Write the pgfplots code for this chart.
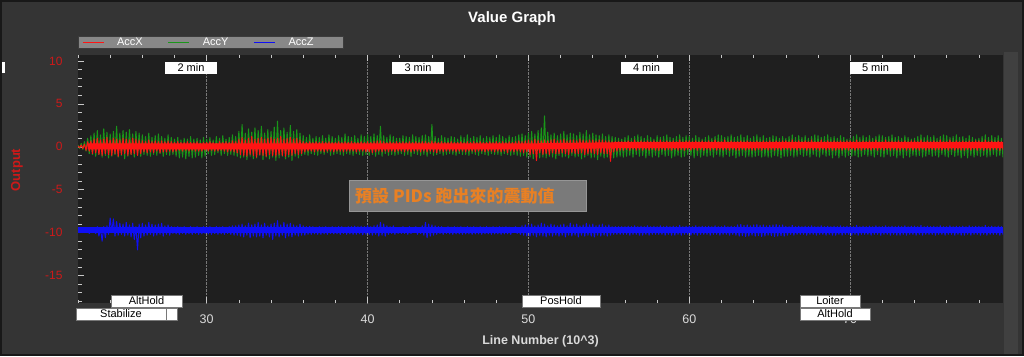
\documentclass[border=0pt]{standalone}
\usepackage{fontspec}
\setmainfont{Liberation Sans}
\newfontfamily\cjk{Noto Sans CJK TC}
\usepackage{pgfplots}
\pgfplotsset{compat=1.18}
\usepackage{pgfplotstable}

\definecolor{framec}{RGB}{24,24,24}
\definecolor{outerbg}{RGB}{52,52,52}
\definecolor{stripc}{RGB}{64,64,64}
\definecolor{plotbg}{RGB}{31,31,31}
\definecolor{gridc}{RGB}{120,120,120}
\definecolor{tickc}{RGB}{200,200,200}
\definecolor{xlabc}{RGB}{218,218,218}
\definecolor{ylabc}{RGB}{205,25,25}
\definecolor{legbg}{RGB}{136,136,136}
\definecolor{legborder}{RGB}{60,60,60}
\definecolor{annbg}{RGB}{122,122,122}
\definecolor{annborder}{RGB}{150,150,150}
\definecolor{annfg}{RGB}{232,128,36}
\definecolor{accx}{RGB}{255,20,20}
\definecolor{accy}{RGB}{25,150,25}
\definecolor{accz}{RGB}{15,15,245}
\definecolor{boxborder}{RGB}{120,120,120}

\pgfplotstableread{
x r g b
22.0 0.1 0.2 -9.6
22.1 -0.1 -0.2 -9.9
22.2 0.2 0.4 -9.5
22.3 -0.2 -0.3 -10.0
22.4 0.3 0.6 -9.5
22.5 -0.4 -0.5 -10.0
22.6 0.6 1.0 -9.4
22.7 -0.5 -0.8 -10.1
22.8 0.7 1.3 -9.5
22.9 -0.8 -0.9 -10.0
23.0 0.9 1.6 -9.4
23.1 -0.7 -1.1 -10.1
23.2 1.0 1.9 -9.3
23.3 -0.9 -0.9 -10.4
23.4 0.8 1.4 -9.5
23.5 -1.0 -1.2 -11.0
23.6 0.9 2.1 -9.3
23.7 -0.8 -1.0 -10.6
23.8 1.1 1.7 -9.2
23.9 -0.9 -1.3 -10.2
24.0 0.8 1.5 -8.3
24.1 -1.0 -1.1 -10.0
24.2 1.0 1.8 -8.4
24.3 -0.8 -0.9 -10.4
24.4 0.9 2.4 -8.7
24.5 -1.1 -1.2 -10.3
24.6 0.8 1.6 -8.9
24.7 -0.9 -1.0 -10.2
24.8 1.0 1.9 -9.0
24.9 -0.8 -1.4 -10.4
25.0 0.9 1.7 -8.8
25.1 -1.0 -1.1 -10.3
25.2 0.8 2.0 -9.1
25.3 -0.9 -0.9 -10.5
25.4 1.0 1.5 -8.9
25.5 -0.8 -1.2 -10.8
25.6 0.9 1.8 -9.3
25.7 -1.0 -1.0 -12.0
25.8 0.8 1.6 -9.0
25.9 -0.8 -1.1 -10.6
26.0 0.7 1.4 -8.9
26.1 -0.6 -0.9 -10.4
26.2 0.6 1.2 -9.1
26.3 -0.7 -1.0 -10.3
26.4 0.8 1.6 -8.8
26.5 -0.6 -1.1 -10.2
26.6 0.6 1.1 -9.0
26.7 -0.7 -0.9 -10.4
26.8 0.7 1.3 -9.1
26.9 -0.5 -1.0 -10.3
27.0 0.6 1.5 -9.0
27.1 -0.7 -0.8 -10.2
27.2 0.7 1.2 -8.9
27.3 -0.6 -1.1 -10.4
27.4 0.6 1.0 -9.2
27.5 -0.6 -0.9 -10.2
27.6 0.7 1.4 -9.1
27.7 -0.5 -1.0 -10.3
27.8 0.6 1.1 -9.3
27.9 -0.6 -0.9 -10.1
28.0 0.5 0.9 -9.35
28.1 -0.5 -1.1 -10.15
28.2 0.6 1.1 -9.3
28.3 -0.4 -1.3 -10.2
28.4 0.5 0.8 -9.35
28.5 -0.5 -1.2 -10.1
28.6 0.5 1.0 -9.3
28.7 -0.4 -1.4 -10.2
28.8 0.6 0.9 -9.4
28.9 -0.5 -1.1 -10.15
29.0 0.5 1.2 -9.3
29.1 -0.4 -1.3 -10.2
29.2 0.5 0.9 -9.35
29.3 -0.5 -1.2 -10.1
29.4 0.6 1.0 -9.3
29.5 -0.5 -1.0 -10.2
29.6 0.4 0.8 -9.4
29.7 -0.5 -1.3 -10.15
29.8 0.5 1.1 -9.3
29.9 -0.4 -1.1 -10.1
30.0 0.5 0.9 -9.35
30.1 -0.5 -0.8 -10.15
30.2 0.6 1.1 -9.3
30.3 -0.4 -1.0 -10.2
30.4 0.5 0.8 -9.4
30.5 -0.5 -0.9 -10.1
30.6 0.4 1.2 -9.3
30.7 -0.5 -0.7 -10.2
30.8 0.6 1.0 -9.35
30.9 -0.4 -1.0 -10.15
31.0 0.5 1.3 -9.3
31.1 -0.5 -0.8 -10.2
31.2 0.6 0.9 -9.35
31.3 -0.6 -1.0 -10.1
31.4 0.5 1.1 -9.3
31.5 -0.5 -0.9 -10.2
31.6 0.7 1.4 -9.2
31.7 -0.6 -1.0 -10.3
31.8 0.6 1.2 -9.2
31.9 -0.7 -1.1 -10.3
32.0 0.9 1.8 -9.1
32.1 -0.9 -1.3 -10.4
32.2 1.1 2.6 -9.0
32.3 -1.0 -1.2 -10.5
32.4 0.8 1.6 -9.2
32.5 -1.1 -1.5 -10.3
32.6 1.0 2.1 -8.9
32.7 -0.9 -1.1 -10.6
32.8 1.2 1.7 -9.1
32.9 -1.0 -1.4 -10.4
33.0 0.9 2.2 -9.0
33.1 -1.2 -1.3 -10.5
33.2 1.0 1.9 -8.8
33.3 -0.9 -1.0 -10.4
33.4 1.1 2.4 -9.1
33.5 -1.0 -1.5 -10.6
33.6 0.9 1.6 -8.9
33.7 -1.1 -1.2 -10.3
33.8 1.0 2.0 -9.2
33.9 -0.9 -1.4 -10.5
34.0 1.1 1.8 -9.0
34.1 -1.0 -1.2 -10.8
34.2 0.9 2.3 -8.9
34.3 -1.1 -1.6 -10.4
34.4 1.0 3.0 -8.6
34.5 -0.9 -1.3 -10.5
34.6 1.2 1.9 -9.1
34.7 -1.0 -1.1 -10.3
34.8 0.9 2.2 -8.8
34.9 -1.1 -1.4 -10.6
35.0 1.0 1.7 -9.0
35.1 -0.9 -1.2 -10.4
35.2 1.1 2.5 -8.9
35.3 -1.0 -1.6 -10.5
35.4 0.9 1.8 -9.1
35.5 -0.8 -1.1 -10.3
35.6 1.0 2.0 -9.2
35.7 -0.9 -1.3 -10.4
35.8 0.8 1.6 -9.0
35.9 -0.8 -1.0 -10.3
36.0 0.6 1.3 -9.2
36.1 -0.6 -0.9 -10.3
36.2 0.5 1.1 -9.3
36.3 -0.5 -1.0 -10.2
36.4 0.6 1.4 -9.25
36.5 -0.5 -0.8 -10.2
36.6 0.5 1.0 -9.3
36.7 -0.6 -0.9 -10.15
36.8 0.6 1.2 -9.35
36.9 -0.5 -1.0 -10.2
37.0 0.5 1.1 -9.3
37.1 -0.5 -0.8 -10.2
37.2 0.6 1.3 -9.35
37.3 -0.6 -0.9 -10.15
37.4 0.5 1.0 -9.3
37.5 -0.5 -0.7 -10.2
37.6 0.6 1.4 -9.35
37.7 -0.5 -1.0 -10.1
37.8 0.5 1.2 -9.3
37.9 -0.6 -0.9 -10.15
38.0 0.5 1.0 -9.35
38.1 -0.5 -0.8 -10.15
38.2 0.6 1.3 -9.3
38.3 -0.5 -0.9 -10.2
38.4 0.5 1.1 -9.3
38.5 -0.6 -1.0 -10.1
38.6 0.6 1.5 -9.35
38.7 -0.5 -0.8 -10.2
38.8 0.5 1.2 -9.3
38.9 -0.5 -0.9 -10.15
39.0 0.6 1.1 -9.3
39.1 -0.5 -1.0 -10.2
39.2 0.5 1.3 -9.25
39.3 -0.6 -0.8 -10.2
39.4 0.5 1.0 -9.3
39.5 -0.5 -0.9 -10.15
39.6 0.6 1.4 -9.25
39.7 -0.5 -1.0 -10.25
39.8 0.5 1.2 -9.3
39.9 -0.6 -0.9 -10.2
40.0 0.6 1.4 -9.2
40.1 -0.6 -1.0 -10.2
40.2 0.5 1.2 -9.3
40.3 -0.7 -0.9 -10.3
40.4 0.6 1.5 -9.2
40.5 -0.6 -1.1 -10.2
40.6 0.7 1.3 -9.1
40.7 -0.5 -0.9 -10.4
40.8 0.7 2.4 -8.8
40.9 -0.6 -1.1 -10.3
41.0 0.6 1.3 -9.0
41.1 -0.5 -0.8 -10.4
41.2 0.5 1.1 -9.2
41.3 -0.6 -1.0 -10.2
41.4 0.6 1.4 -9.3
41.5 -0.5 -0.9 -10.1
41.6 0.5 1.2 -9.2
41.7 -0.6 -1.0 -10.2
41.8 0.6 1.0 -9.4
41.9 -0.5 -0.9 -10.1
42.0 0.5 1.0 -9.4
42.1 -0.5 -0.8 -10.1
42.2 0.6 1.3 -9.3
42.3 -0.6 -1.0 -10.1
42.4 0.5 1.2 -9.4
42.5 -0.5 -0.9 -10.2
42.6 0.6 1.1 -9.3
42.7 -0.6 -1.1 -10.1
42.8 0.5 1.4 -9.4
42.9 -0.5 -0.8 -10.0
43.0 0.6 1.2 -9.3
43.1 -0.5 -0.9 -10.2
43.2 0.5 1.1 -9.4
43.3 -0.6 -1.0 -10.1
43.4 0.6 1.3 -9.2
43.5 -0.5 -0.9 -10.3
43.6 0.6 1.4 -8.8
43.7 -0.6 -1.1 -10.6
43.8 0.5 1.2 -9.0
43.9 -0.5 -0.8 -10.4
44.0 0.7 2.6 -9.1
44.1 -0.6 -1.0 -10.3
44.2 0.6 1.2 -9.2
44.3 -0.7 -0.9 -10.2
44.4 0.5 1.0 -9.3
44.5 -0.5 -0.8 -10.1
44.6 0.6 1.3 -9.3
44.7 -0.6 -1.0 -10.2
44.8 0.5 1.1 -9.4
44.9 -0.5 -0.9 -10.1
45.0 0.5 1.0 -9.3
45.1 -0.5 -0.8 -10.15
45.2 0.6 1.2 -9.35
45.3 -0.5 -0.9 -10.2
45.4 0.5 1.1 -9.3
45.5 -0.6 -1.0 -10.15
45.6 0.5 0.9 -9.35
45.7 -0.5 -0.8 -10.15
45.8 0.6 1.3 -9.3
45.9 -0.5 -0.9 -10.2
46.0 0.5 1.1 -9.35
46.1 -0.6 -0.9 -10.15
46.2 0.6 1.4 -9.3
46.3 -0.5 -1.0 -10.15
46.4 0.5 1.0 -9.35
46.5 -0.5 -0.8 -10.2
46.6 0.6 1.2 -9.3
46.7 -0.6 -0.9 -10.15
46.8 0.5 1.1 -9.35
46.9 -0.5 -1.0 -10.15
47.0 0.6 1.3 -9.3
47.1 -0.5 -0.8 -10.2
47.2 0.5 1.0 -9.35
47.3 -0.6 -0.9 -10.15
47.4 0.5 1.2 -9.3
47.5 -0.5 -1.0 -10.15
47.6 0.6 1.1 -9.35
47.7 -0.5 -0.8 -10.2
47.8 0.5 1.3 -9.3
47.9 -0.6 -0.9 -10.15
48.0 0.6 1.1 -9.35
48.1 -0.5 -0.9 -10.15
48.2 0.5 1.4 -9.3
48.3 -0.6 -1.0 -10.2
48.4 0.6 1.2 -9.35
48.5 -0.5 -0.8 -10.15
48.6 0.5 1.0 -9.3
48.7 -0.7 -0.9 -10.15
48.8 0.6 1.3 -9.35
48.9 -0.5 -1.0 -10.2
49.0 0.5 1.1 -9.4
49.1 -0.6 -0.9 -10.0
49.2 0.6 1.2 -9.3
49.3 -0.5 -1.0 -10.1
49.4 0.7 1.4 -9.4
49.5 -0.6 -1.1 -10.2
49.6 0.6 1.5 -9.2
49.7 -0.7 -1.0 -10.3
49.8 0.7 1.3 -9.1
49.9 -0.6 -1.2 -10.4
50.0 0.8 1.6 -9.1
50.1 -0.9 -1.2 -10.4
50.2 0.7 1.8 -9.0
50.3 -0.8 -1.4 -10.3
50.4 0.9 1.5 -9.2
50.5 -1.6 -1.1 -10.5
50.6 0.8 1.9 -9.1
50.7 -0.7 -1.3 -10.3
50.8 0.7 2.2 -8.9
50.9 -0.9 -1.2 -10.4
51.0 0.8 3.6 -9.0
51.1 -0.8 -1.3 -10.5
51.2 0.7 1.7 -9.2
51.3 -0.9 -1.1 -10.3
51.4 0.8 1.4 -9.0
51.5 -0.7 -1.2 -10.4
51.6 0.9 1.6 -9.1
51.7 -0.8 -1.4 -10.3
51.8 0.7 1.3 -9.2
51.9 -0.8 -1.0 -10.4
52.0 0.8 1.5 -9.1
52.1 -0.7 -1.2 -10.3
52.2 0.9 1.8 -9.0
52.3 -0.8 -1.1 -10.5
52.4 0.7 1.4 -9.2
52.5 -0.9 -1.3 -10.3
52.6 0.8 1.6 -8.9
52.7 -0.7 -1.0 -10.4
52.8 0.8 1.5 -9.1
52.9 -0.8 -1.2 -10.3
53.0 0.7 1.3 -9.0
53.1 -0.8 -1.1 -10.5
53.2 0.9 1.7 -9.2
53.3 -0.7 -1.4 -10.3
53.4 0.8 1.5 -9.1
53.5 -0.9 -1.2 -10.4
53.6 0.7 1.9 -8.9
53.7 -0.8 -1.0 -10.3
53.8 0.8 1.4 -9.1
53.9 -0.7 -1.3 -10.4
54.0 0.8 1.6 -9.0
54.1 -0.8 -1.2 -10.5
54.2 0.7 1.4 -9.2
54.3 -0.9 -1.5 -10.3
54.4 0.8 1.3 -9.1
54.5 -0.7 -1.1 -10.4
54.6 0.8 1.5 -9.0
54.7 -0.8 -1.3 -10.3
54.8 0.7 1.2 -9.2
54.9 -0.8 -1.2 -10.4
55.0 0.7 1.4 -9.1
55.1 -1.7 -1.1 -10.3
55.2 0.6 1.2 -9.3
55.3 -0.6 -1.3 -10.2
55.4 0.6 1.1 -9.3
55.5 -0.5 -1.2 -10.2
55.6 0.6 1.0 -9.3
55.7 -0.4 -1.1 -10.2
55.8 0.6 0.9 -9.3
55.9 -0.4 -1.2 -10.2
56.0 0.6 1.1 -9.3
56.1 -0.3 -1.1 -10.2
56.2 0.7 1.3 -9.25
56.3 -0.4 -1.0 -10.3
56.4 0.6 1.0 -9.3
56.5 -0.3 -1.2 -10.2
56.6 0.8 1.2 -9.2
56.7 -0.4 -0.9 -10.2
56.8 0.6 1.4 -9.3
56.9 -0.3 -1.1 -10.3
57.0 0.7 1.2 -9.25
57.1 -0.4 -1.0 -10.3
57.2 0.6 1.0 -9.3
57.3 -0.3 -1.3 -10.2
57.4 0.7 1.3 -9.2
57.5 -0.4 -1.0 -10.3
57.6 0.6 1.1 -9.3
57.7 -0.3 -1.2 -10.2
57.8 0.7 0.9 -9.25
57.9 -0.4 -1.0 -10.2
58.0 0.6 1.3 -9.3
58.1 -0.4 -1.2 -10.2
58.2 0.8 1.1 -9.2
58.3 -0.3 -0.9 -10.2
58.4 0.6 1.2 -9.3
58.5 -0.4 -1.1 -10.3
58.6 0.7 1.4 -9.25
58.7 -0.3 -1.0 -10.2
58.8 0.6 1.1 -9.3
58.9 -0.4 -1.3 -10.3
59.0 0.7 1.0 -9.25
59.1 -0.3 -1.1 -10.3
59.2 0.6 1.2 -9.3
59.3 -0.4 -1.0 -10.2
59.4 0.8 1.4 -9.15
59.5 -0.3 -1.2 -10.3
59.6 0.6 1.1 -9.3
59.7 -0.4 -1.1 -10.2
59.8 0.7 1.3 -9.25
59.9 -0.3 -0.9 -10.2
60.0 0.7 1.2 -9.25
60.1 -0.4 -1.0 -10.3
60.2 0.6 1.0 -9.3
60.3 -0.3 -1.3 -10.2
60.4 0.7 1.3 -9.2
60.5 -0.4 -1.0 -10.3
60.6 0.6 1.1 -9.3
60.7 -0.3 -1.2 -10.2
60.8 0.7 0.9 -9.25
60.9 -0.4 -1.0 -10.2
61.0 0.6 1.1 -9.3
61.1 -0.3 -1.1 -10.2
61.2 0.7 1.3 -9.25
61.3 -0.4 -1.0 -10.3
61.4 0.6 1.0 -9.3
61.5 -0.3 -1.2 -10.2
61.6 0.8 1.2 -9.2
61.7 -0.4 -0.9 -10.2
61.8 0.6 1.4 -9.3
61.9 -0.3 -1.1 -10.3
62.0 0.6 1.3 -9.3
62.1 -0.4 -1.2 -10.2
62.2 0.8 1.1 -9.2
62.3 -0.3 -0.9 -10.2
62.4 0.6 1.2 -9.3
62.5 -0.4 -1.1 -10.3
62.6 0.7 1.4 -9.25
62.7 -0.3 -1.0 -10.2
62.8 0.6 1.1 -9.3
62.9 -0.4 -1.3 -10.3
63.0 0.6 1.2 -9.1
63.1 -0.4 -1.1 -10.4
63.2 0.7 1.4 -9.05
63.3 -0.3 -1.0 -10.35
63.4 0.6 1.1 -9.15
63.5 -0.4 -1.2 -10.45
63.6 0.7 1.3 -9.1
63.7 -0.3 -1.1 -10.4
63.8 0.6 1.0 -9.2
63.9 -0.4 -1.2 -10.3
64.0 0.6 1.2 -9.1
64.1 -0.4 -1.1 -10.4
64.2 0.7 1.4 -9.05
64.3 -0.3 -1.0 -10.35
64.4 0.6 1.1 -9.15
64.5 -0.4 -1.2 -10.45
64.6 0.7 1.3 -9.1
64.7 -0.3 -1.1 -10.4
64.8 0.6 1.0 -9.2
64.9 -0.4 -1.2 -10.3
65.0 0.7 1.1 -9.15
65.1 -0.3 -1.2 -10.35
65.2 0.6 1.3 -9.1
65.3 -0.4 -1.0 -10.45
65.4 0.7 1.2 -9.05
65.5 -0.3 -1.1 -10.4
65.6 0.6 1.0 -9.15
65.7 -0.4 -1.3 -10.35
65.8 0.7 1.2 -9.1
65.9 -0.3 -1.1 -10.4
66.0 0.7 1.0 -9.25
66.1 -0.3 -1.1 -10.3
66.2 0.6 1.2 -9.3
66.3 -0.4 -1.0 -10.2
66.4 0.8 1.4 -9.15
66.5 -0.3 -1.2 -10.3
66.6 0.6 1.1 -9.3
66.7 -0.4 -1.1 -10.2
66.8 0.7 1.3 -9.25
66.9 -0.3 -0.9 -10.2
67.0 0.6 1.1 -9.3
67.1 -0.3 -1.1 -10.2
67.2 0.7 1.3 -9.25
67.3 -0.4 -1.0 -10.3
67.4 0.6 1.0 -9.3
67.5 -0.3 -1.2 -10.2
67.6 0.8 1.2 -9.2
67.7 -0.4 -0.9 -10.2
67.8 0.6 1.4 -9.3
67.9 -0.3 -1.1 -10.3
68.0 0.6 1.3 -9.3
68.1 -0.4 -1.2 -10.2
68.2 0.8 1.1 -9.2
68.3 -0.3 -0.9 -10.2
68.4 0.6 1.2 -9.3
68.5 -0.4 -1.1 -10.3
68.6 0.7 1.4 -9.25
68.7 -0.3 -1.0 -10.2
68.8 0.6 1.1 -9.3
68.9 -0.4 -1.3 -10.3
69.0 0.7 1.2 -9.25
69.1 -0.4 -1.0 -10.3
69.2 0.6 1.0 -9.3
69.3 -0.3 -1.3 -10.2
69.4 0.7 1.3 -9.2
69.5 -0.4 -1.0 -10.3
69.6 0.6 1.1 -9.3
69.7 -0.3 -1.2 -10.2
69.8 0.7 0.9 -9.25
69.9 -0.4 -1.0 -10.2
70.0 0.7 1.0 -9.25
70.1 -0.3 -1.1 -10.3
70.2 0.6 1.2 -9.3
70.3 -0.4 -1.0 -10.2
70.4 0.8 1.4 -9.15
70.5 -0.3 -1.2 -10.3
70.6 0.6 1.1 -9.3
70.7 -0.4 -1.1 -10.2
70.8 0.7 1.3 -9.25
70.9 -0.3 -0.9 -10.2
71.0 0.6 1.1 -9.3
71.1 -0.3 -1.1 -10.2
71.2 0.7 1.3 -9.25
71.3 -0.4 -1.0 -10.3
71.4 0.6 1.0 -9.3
71.5 -0.3 -1.2 -10.2
71.6 0.8 1.2 -9.2
71.7 -0.4 -0.9 -10.2
71.8 0.6 1.4 -9.3
71.9 -0.3 -1.1 -10.3
72.0 0.6 1.3 -9.3
72.1 -0.4 -1.2 -10.2
72.2 0.8 1.1 -9.2
72.3 -0.3 -0.9 -10.2
72.4 0.6 1.2 -9.3
72.5 -0.4 -1.1 -10.3
72.6 0.7 1.4 -9.25
72.7 -0.3 -1.0 -10.2
72.8 0.6 1.1 -9.3
72.9 -0.4 -1.3 -10.3
73.0 0.7 1.2 -9.25
73.1 -0.4 -1.0 -10.3
73.2 0.6 1.0 -9.3
73.3 -0.3 -1.3 -10.2
73.4 0.7 1.3 -9.2
73.5 -0.4 -1.0 -10.3
73.6 0.6 1.1 -9.3
73.7 -0.3 -1.2 -10.2
73.8 0.7 0.9 -9.25
73.9 -0.4 -1.0 -10.2
74.0 0.7 1.0 -9.25
74.1 -0.3 -1.1 -10.3
74.2 0.6 1.2 -9.3
74.3 -0.4 -1.0 -10.2
74.4 0.8 1.4 -9.15
74.5 -0.3 -1.2 -10.3
74.6 0.6 1.1 -9.3
74.7 -0.4 -1.1 -10.2
74.8 0.7 1.3 -9.25
74.9 -0.3 -0.9 -10.2
75.0 0.6 1.1 -9.3
75.1 -0.3 -1.1 -10.2
75.2 0.7 1.3 -9.25
75.3 -0.4 -1.0 -10.3
75.4 0.6 1.0 -9.3
75.5 -0.3 -1.2 -10.2
75.6 0.8 1.2 -9.2
75.7 -0.4 -0.9 -10.2
75.8 0.6 1.4 -9.3
75.9 -0.3 -1.1 -10.3
76.0 0.6 1.3 -9.3
76.1 -0.4 -1.2 -10.2
76.2 0.8 1.1 -9.2
76.3 -0.3 -0.9 -10.2
76.4 0.6 1.2 -9.3
76.5 -0.4 -1.1 -10.3
76.6 0.7 1.4 -9.25
76.7 -0.3 -1.0 -10.2
76.8 0.6 1.1 -9.3
76.9 -0.4 -1.3 -10.3
77.0 0.7 1.2 -9.25
77.1 -0.4 -1.0 -10.3
77.2 0.6 1.0 -9.3
77.3 -0.3 -1.3 -10.2
77.4 0.7 1.3 -9.2
77.5 -0.4 -1.0 -10.3
77.6 0.6 1.1 -9.3
77.7 -0.3 -1.2 -10.2
77.8 0.7 0.9 -9.25
77.9 -0.4 -1.0 -10.2
78.0 0.7 1.0 -9.25
78.1 -0.3 -1.1 -10.3
78.2 0.6 1.2 -9.3
78.3 -0.4 -1.0 -10.2
78.4 0.8 1.4 -9.15
78.5 -0.3 -1.2 -10.3
78.6 0.6 1.1 -9.3
78.7 -0.4 -1.1 -10.2
78.8 0.7 1.3 -9.25
78.9 -0.3 -0.9 -10.2
79.0 0.6 1.1 -9.3
79.1 -0.3 -1.1 -10.2
79.2 0.7 1.3 -9.25
79.3 -0.4 -1.0 -10.3
79.4 0.6 1.0 -9.3
79.5 -0.3 -1.2 -10.2
79.6 0.8 1.2 -9.2
}\accdata

\begin{document}
\begin{tikzpicture}[x=1pt,y=1pt]
\useasboundingbox (0,0) rectangle (1024,356);
\fill[framec] (0,0) rectangle (1024,356);
\fill[outerbg] (2,2) rectangle (1022,354);
\fill[stripc] (1004,2) rectangle (1018,304);
\begin{axis}[
  at={(78pt,53pt)}, anchor=south west,
  scale only axis, width=925pt, height=248pt,
  xmin=22, xmax=79.5, ymin=-18.2, ymax=10.7,
  axis background/.style={fill=plotbg},
  axis line style={draw=none},
  xtick={30,40,50,60,70}, xticklabels={30,40,50,60,70},
  minor xtick={22,24,26,28,32,34,36,38,42,44,46,48,52,54,56,58,62,64,66,68,72,74,76,78},
  ytick={-15,-10,-5,0,5,10}, yticklabels={-15,-10,-5,0,5,10},
  minor ytick={-18,-17,-16,-14,-13,-12,-11,-9,-8,-7,-6,-4,-3,-2,-1,1,2,3,4,6,7,8,9},
  ytick pos=left, xtick pos=both,
  tick align=inside,
  major tick length=6pt, minor tick length=3.5pt,
  tick style={tickc, line width=0.6pt},
  xmajorgrids, major grid style={gridc, densely dotted, line width=0.6pt},
  x tick label style={text=xlabc, font=\fontsize{12.5}{14}\selectfont, yshift=-8pt},
  y tick label style={text=ylabc, font=\fontsize{12}{14}\selectfont, xshift=-12pt},
  every axis title shift=0pt,
  title={Value Graph},
  title style={at={(axis description cs:0.4692,1.145)}, anchor=center, text=white, font=\bfseries\fontsize{15}{17}\selectfont},
  xlabel={Line Number (10\textasciicircum 3)},
  xlabel style={at={(axis description cs:0.5,-0.153)}, anchor=center, text=xlabc, font=\bfseries\fontsize{12.5}{14}\selectfont},
  ylabel={Output},
  ylabel style={at={(axis description cs:-0.0659,0.5363)}, anchor=center, text=ylabc, font=\bfseries\fontsize{13}{15}\selectfont},
  legend columns=3,
  legend cell align=left,
  legend image code/.code={\draw[#1, line width=0.7pt] (0pt,0pt) -- (21pt,0pt);},
  legend style={at={(axis description cs:0,1)}, anchor=south west, yshift=6pt,
    fill=legbg, draw=legborder, line width=0.8pt,
    inner xsep=4pt, inner ysep=0.5pt,
    font=\fontsize{11}{12}\selectfont, text=white,
    nodes={inner sep=0pt, text width=51pt, text height=8.5pt, text depth=2.5pt},
    /tikz/every odd column/.append style={column sep=13pt}},
]
\addplot[accy, line width=1.0pt, line join=round, forget plot] table[x=x, y=g] {\accdata};
\addplot[accx, line width=6pt, forget plot] coordinates {(22.6,0.05) (50,0.05) (56,0.2) (79.5,0.2)};
\addplot[accx, line width=1.0pt, line join=round, forget plot] table[x=x, y=r] {\accdata};
\addplot[accz, line width=6pt, forget plot] coordinates {(22.0,-9.75) (79.5,-9.75)};
\addplot[accz, line width=1.0pt, line join=round, forget plot] table[x=x, y=b] {\accdata};
\addlegendimage{accx}\addlegendentry{AccX}
\addlegendimage{accy}\addlegendentry{AccY}
\addlegendimage{accz}\addlegendentry{AccZ}
\end{axis}
% minute markers
\begin{scope}[every node/.style={fill=white, text=black, inner sep=0pt, minimum width=52pt, minimum height=12pt, font=\fontsize{11}{12}\selectfont}]
\node at (191,288) {2 min};
\node at (418,288) {3 min};
\node at (646.5,288) {4 min};
\node at (875.5,288) {5 min};
\end{scope}
\fill[white] (2,283) rectangle (5,294);
% flight mode labels
\begin{scope}[every node/.style={fill=white, draw=boxborder, line width=0.5pt, text=black, inner sep=0pt, minimum height=12pt, font=\fontsize{11}{12}\selectfont}]
\node[minimum width=11pt] at (171.5,42) {};
\node[minimum width=90pt] at (121,42) {Stabilize};
\node[minimum width=71pt] at (146.5,55) {AltHold};
\node[minimum width=78pt] at (561,55) {PosHold};
\node[minimum width=70pt] at (835,42) {AltHold};
\node[minimum width=60pt] at (830,55) {Loiter};
\end{scope}
% annotation
\node[fill=annbg, draw=annborder, line width=0.8pt, minimum width=237pt, minimum height=31pt, anchor=south west, inner sep=0pt] at (349,144.3) {};
\node[anchor=west, text=annfg, font=\cjk\bfseries\fontsize{17}{19}\selectfont, inner sep=0pt] at (355,160) {預設 PIDs 跑出來的震動值};
\end{tikzpicture}
\end{document}
